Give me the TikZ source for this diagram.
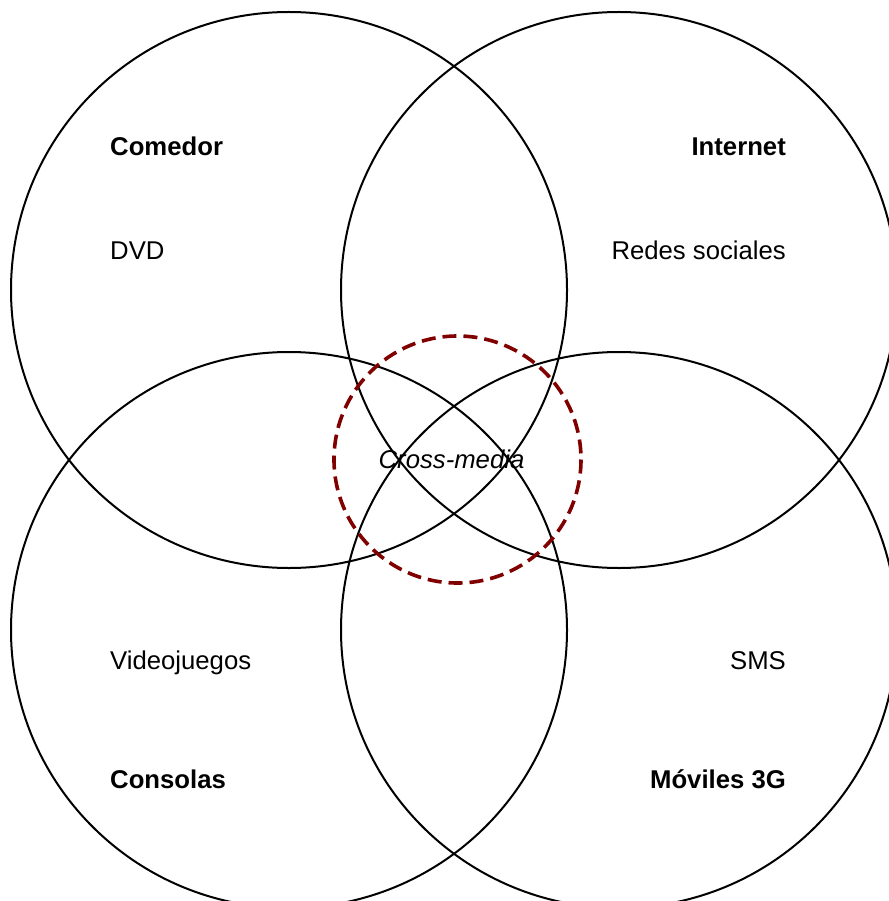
\documentclass[tikz,border=0pt]{standalone}
\usepackage{fontspec}
\setmainfont{Liberation Sans}
\definecolor{coreRed}{RGB}{128,0,0}
\begin{document}
\begin{tikzpicture}[x=1pt,y=-1pt,
  ring/.style={draw=black, line width=2pt},
  core/.style={draw=coreRed, line width=3.6pt, dash pattern=on 14pt off 7pt},
  lbl/.style={inner sep=0pt, font=\fontsize{25.7}{30}\selectfont},
  head/.style={lbl, font=\fontsize{25.7}{30}\selectfont\bfseries}]
\useasboundingbox (0,0) rectangle (888,901);

% four overlapping media circles
\draw[ring] (289,290) circle[radius=278];
\draw[ring] (619,290) circle[radius=278];
\draw[ring] (289,630) circle[radius=278];
\draw[ring] (619,630) circle[radius=278];

% dashed centre circle
\draw[core] (457.5,459.5) circle[radius=123.5];
\node[lbl, font=\fontsize{25.7}{30}\selectfont\itshape, anchor=base] (cross) at (451.5,468) {Cross-media};

% top left
\node[head, anchor=base west] (comedor) at (110,156) {Comedor};
\node[lbl, anchor=base west] (dvd) at (110,259) {DVD};
% top right
\node[head, anchor=base east] (internet) at (786,156) {Internet};
\node[lbl, anchor=base east] (redes) at (786,259) {Redes sociales};
% bottom left
\node[lbl, anchor=base west] (videojuegos) at (110,669) {Videojuegos};
\node[head, anchor=base west] (consolas) at (110,788) {Consolas};
% bottom right
\node[lbl, anchor=base east] (sms) at (786,669) {SMS};
\node[head, anchor=base east] (moviles) at (786,788) {Móviles 3G};
\end{tikzpicture}
\end{document}
